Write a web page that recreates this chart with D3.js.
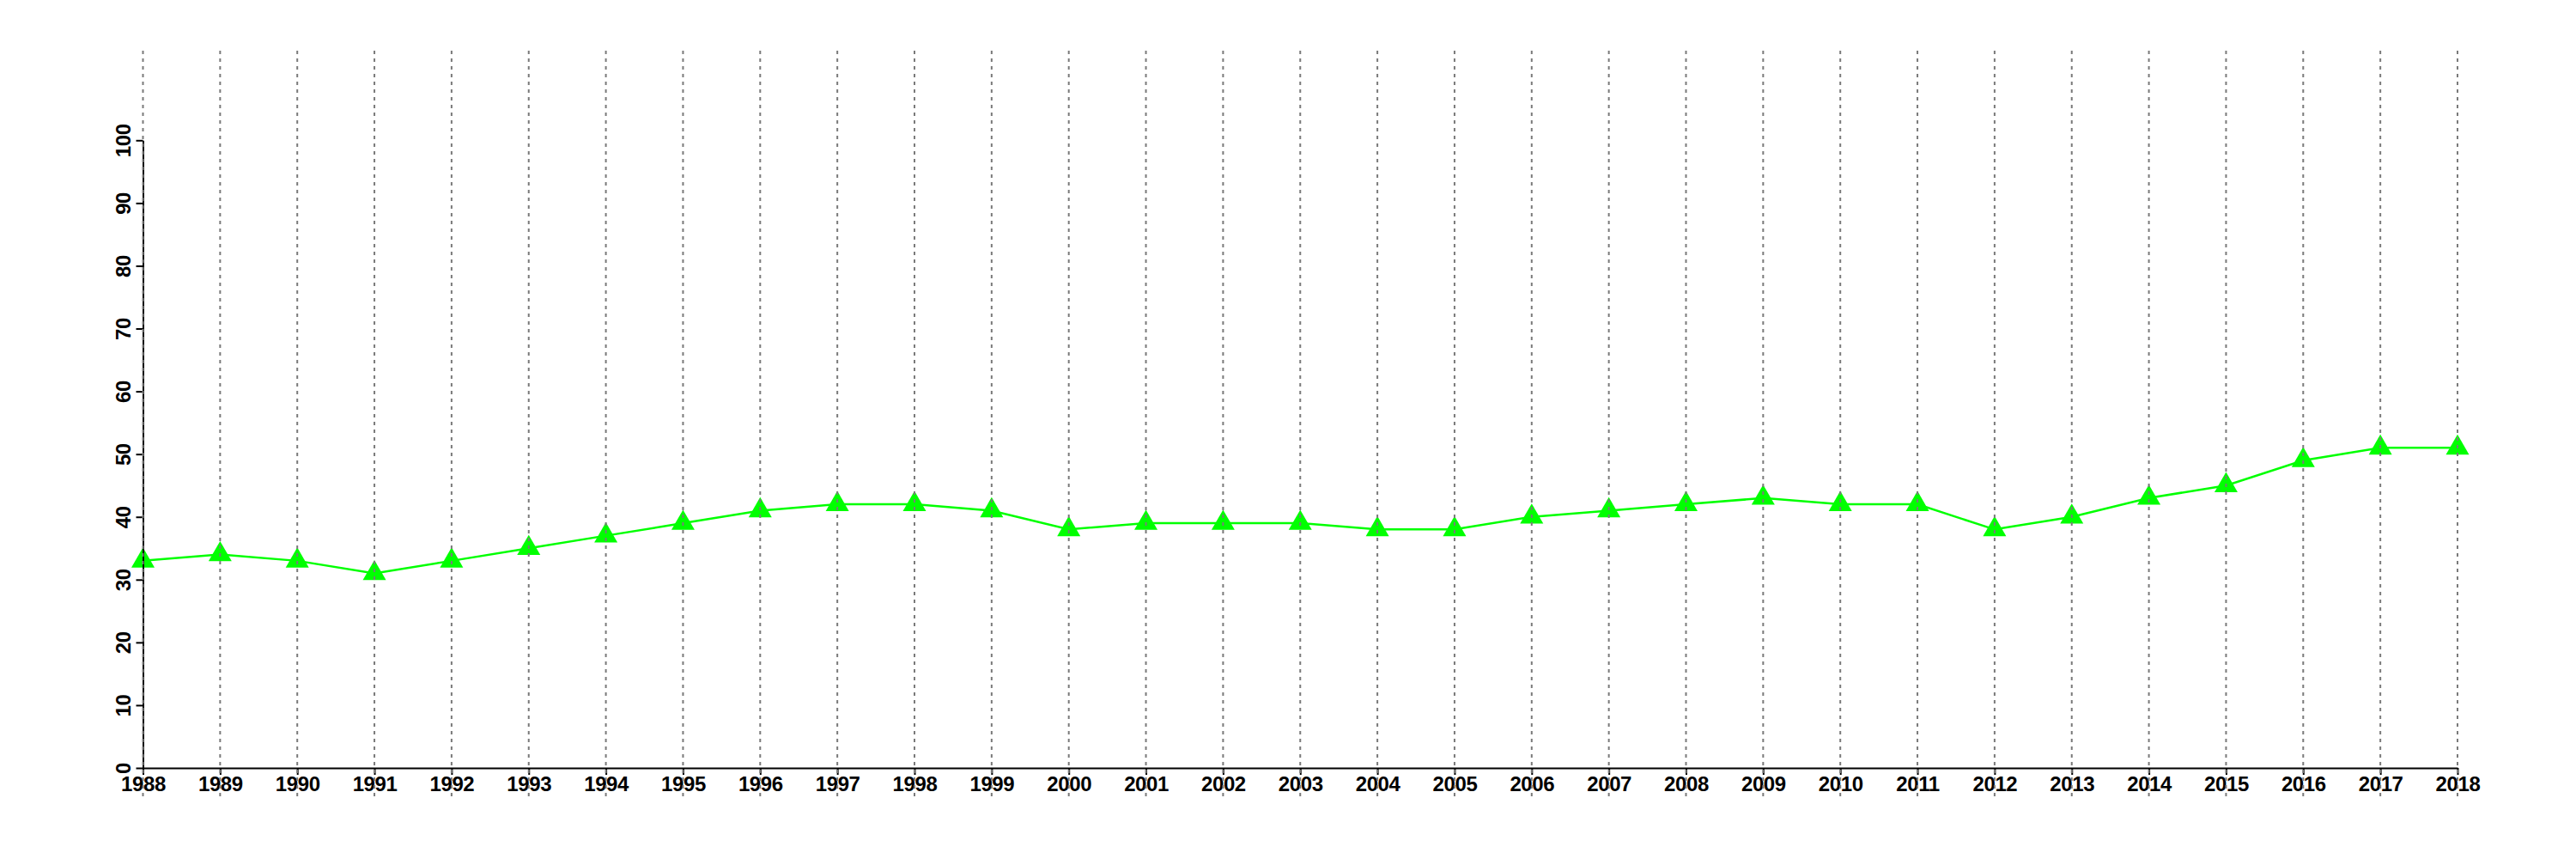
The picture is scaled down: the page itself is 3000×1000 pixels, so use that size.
<!DOCTYPE html>
<html>
<head>
<meta charset="utf-8">
<script src="https://cdn.jsdelivr.net/npm/d3@7"></script>
<style>
  html, body { margin: 0; padding: 0; background: #ffffff; }
  svg { display: block; }
  .tick text { font-family: "Liberation Sans", Arial, Helvetica, sans-serif; font-weight: bold; font-size: 24px; letter-spacing: -0.4px; fill: #000; }
</style>
</head>
<body>
<script>
const years = [1988,1989,1990,1991,1992,1993,1994,1995,1996,1997,1998,1999,2000,2001,2002,2003,2004,2005,2006,2007,2008,2009,2010,2011,2012,2013,2014,2015,2016,2017,2018];
const values = [33,34,33,31,33,35,37,39,41,42,42,41,38,39,39,39,38,38,40,41,42,43,42,42,38,40,43,45,49,51,51];
const yTicks = [0,10,20,30,40,50,60,70,80,90,100];

const W = 3000, H = 1000;
const svg = d3.select("body").append("svg").attr("width", W).attr("height", H);

const x = d3.scaleLinear().domain([1988, 2018]).range([166.5, 2862]);
const y = d3.scaleLinear().domain([0, 100]).range([894, 163.3]);

// data line
const line = d3.line().x((d, i) => x(years[i])).y(d => y(d));
svg.append("path")
  .datum(values)
  .attr("d", line)
  .attr("fill", "none")
  .attr("stroke", "#00ff00")
  .attr("stroke-width", 2.5);

// markers
const tri = d3.symbol().type(d3.symbolTriangle).size(Math.sqrt(3) / 4 * 27 * 27);
svg.append("g").selectAll("path")
  .data(values)
  .join("path")
  .attr("d", tri)
  .attr("transform", (d, i) => `translate(${x(years[i])},${y(d)})`)
  .attr("fill", "#00ff00");

// axes
const yAxis = svg.append("g")
  .attr("transform", `translate(${x(1988)},0)`)
  .call(d3.axisLeft(y).tickValues(yTicks).tickSize(8).tickSizeOuter(0).tickFormat(d3.format("d")));
yAxis.select(".domain").attr("stroke", "#000").attr("stroke-width", 2);
yAxis.selectAll(".tick line").attr("stroke", "#000").attr("stroke-width", 2);
yAxis.selectAll(".tick text")
  .attr("x", 0).attr("y", 0).attr("dy", 0)
  .attr("text-anchor", "middle")
  .attr("transform", "translate(-14.5,0) rotate(-90)");

const xAxis = svg.append("g")
  .attr("transform", `translate(0,${y(0)})`)
  .call(d3.axisBottom(x).tickValues(years).tickSize(8).tickSizeOuter(0).tickFormat(d3.format("d")));
xAxis.select(".domain").attr("stroke", "#000").attr("stroke-width", 2);
xAxis.selectAll(".tick line").attr("stroke", "#000").attr("stroke-width", 2);
xAxis.selectAll(".tick text")
  .attr("y", 26.7).attr("dy", 0)
  .attr("text-anchor", "middle");

// vertical dotted grid lines (drawn on top)
svg.append("g").selectAll("line")
  .data(years)
  .join("line")
  .attr("x1", d => x(d)).attr("x2", d => x(d))
  .attr("y1", 59).attr("y2", 927)
  .attr("stroke", "#7a7a7a")
  .attr("stroke-width", 2)
  .attr("stroke-dasharray", "4,5");
</script>
</body>
</html>
